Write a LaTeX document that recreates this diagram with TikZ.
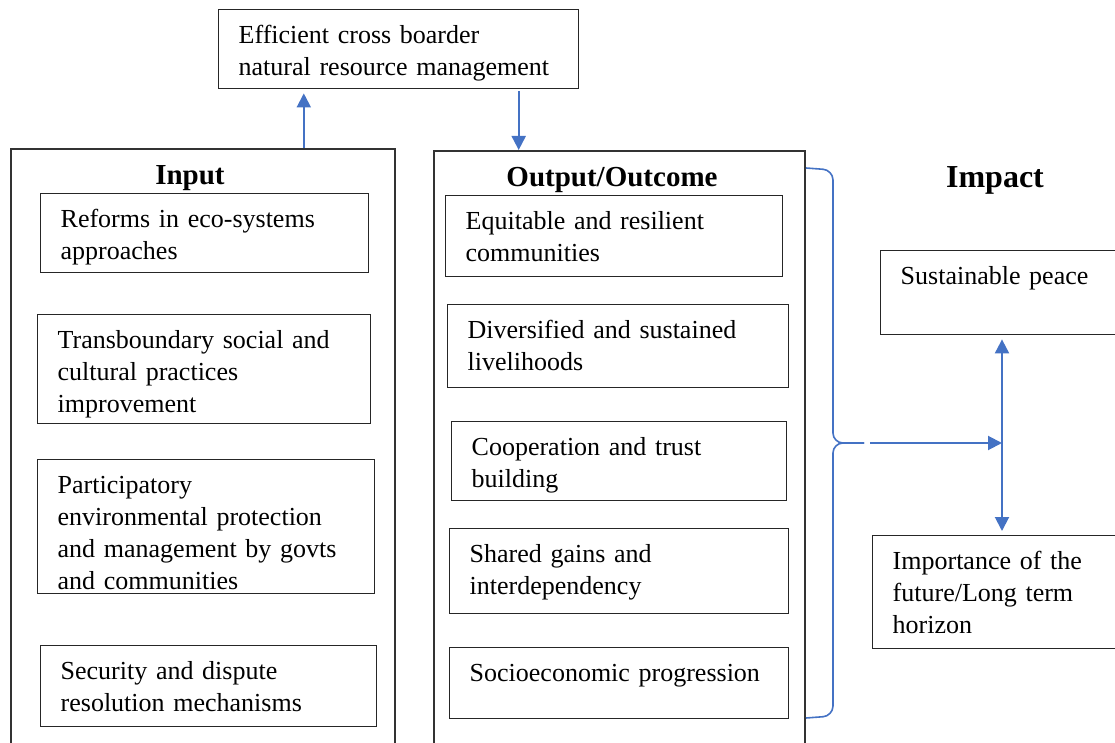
\documentclass[tikz,border=0pt]{standalone}
\usepackage{fontspec}
\setmainfont{Liberation Serif}
\usepackage{xcolor}
\definecolor{officeblue}{RGB}{68,114,196}
\usetikzlibrary{arrows.meta,positioning,calc}
\tikzset{
	every node/.append style={font=\fontsize{13}{16}\selectfont},
	item/.style 2 args = {
			draw            = black!85,
			line width      = 0.7pt,
			anchor          = north west,
			align           = left,
			inner xsep      = 10pt,
			inner ysep      = 0pt,
			minimum width   = #1*0.5pt,
			text width      = #1*0.5pt-20pt,
			text height     = 17pt,
			text depth      = #2*0.5pt-17pt,
		},
	panel/.style 2 args = {
			draw            = black!80,
			line width      = 0.8pt,
			anchor          = north west,
			inner sep       = 0pt,
			minimum width   = #1*0.5pt,
			minimum height  = #2*0.5pt,
		},
	heading/.style = {font=\fontsize{14.5}{16}\selectfont\bfseries, inner sep=0pt},
	flow/.style = {draw=officeblue, line width=1pt, -{Triangle[width=7pt,length=7pt]}},
	twoway/.style = {draw=officeblue, line width=1pt, {Triangle[width=7pt,length=7pt]}-{Triangle[width=7pt,length=7pt]}},
}

\begin{document}
\begin{tikzpicture}[x=0.5pt,y=-0.5pt]
	\useasboundingbox (0,0) rectangle (1115,743);
	\clip (0,0) rectangle (1115,743);
	% top box
	\node[item={360}{79}] at (218,9) (top) {Efficient cross boarder\\natural resource management};
	% input column
	\node[panel={384}{620}] at (10,148) (inbox) {};
	\node[heading] at (190,178) (ttlin) {Input};
	\node[item={328}{79}] at (40,193) (in1) {Reforms in eco-systems\\approaches};
	\node[item={333}{109}] at (37,314) (in2) {Transboundary social and\\cultural practices\\improvement};
	\node[item={337}{134}] at (37,459) (in3) {Participatory\\environmental protection\\and management by govts\\and communities};
	\node[item={336}{81}] at (40,645) (in4) {Security and dispute\\resolution mechanisms};
	% output column
	\node[panel={371}{620}] at (433,150) (outbox) {};
	\node[heading] at (612,180) (ttlout) {Output/Outcome};
	\node[item={337}{81}] at (445,195) (out1) {Equitable and resilient\\communities};
	\node[item={341}{83}] at (447,304) (out2) {Diversified and sustained\\livelihoods};
	\node[item={335}{79}] at (451,421) (out3) {Cooperation and trust\\building};
	\node[item={339}{85}] at (449,528) (out4) {Shared gains and\\interdependency};
	\node[item={339}{71}] at (449,647) (out5) {Socioeconomic progression};
	% impact
	\node[heading, font=\fontsize{16}{18}\selectfont\bfseries] at (995,180) (ttlimp) {Impact};
	\node[item={260}{84}] at (880,250) (sust) {Sustainable peace};
	\node[item={270}{113}] at (872,535) (imp) {Importance of the\\future/Long term\\horizon};
	% connectors
	\draw[flow, shorten >=2pt] ([xshift=50.5pt]inbox.north) -- ([xshift=50.5pt]inbox.north |- top.south);
	\draw[flow, shorten <=1pt] ([xshift=60pt]top.south) -- ([xshift=60pt]top.south |- outbox.north);
	% brace
	\coordinate (bt) at (806,168);
	\coordinate (bb) at (806,718);
	\coordinate (tip) at ($(bt)!0.5!(bb)+(58,0)$);
	\draw[officeblue, line width=0.8pt, rounded corners=5pt] (bt) -- ++(27,2) -- (833,443) -- (tip);
	\draw[officeblue, line width=0.8pt, rounded corners=5pt] (tip) -- (833,443) -- (833,716) -- (bb);
	\coordinate (mid) at (1002,443);
	\draw[flow, shorten <=3pt] (tip) -- (mid);
	\draw[twoway, shorten <=2pt, shorten >=2pt] (sust.south -| mid) -- (imp.north -| mid);
\end{tikzpicture}
\end{document}
